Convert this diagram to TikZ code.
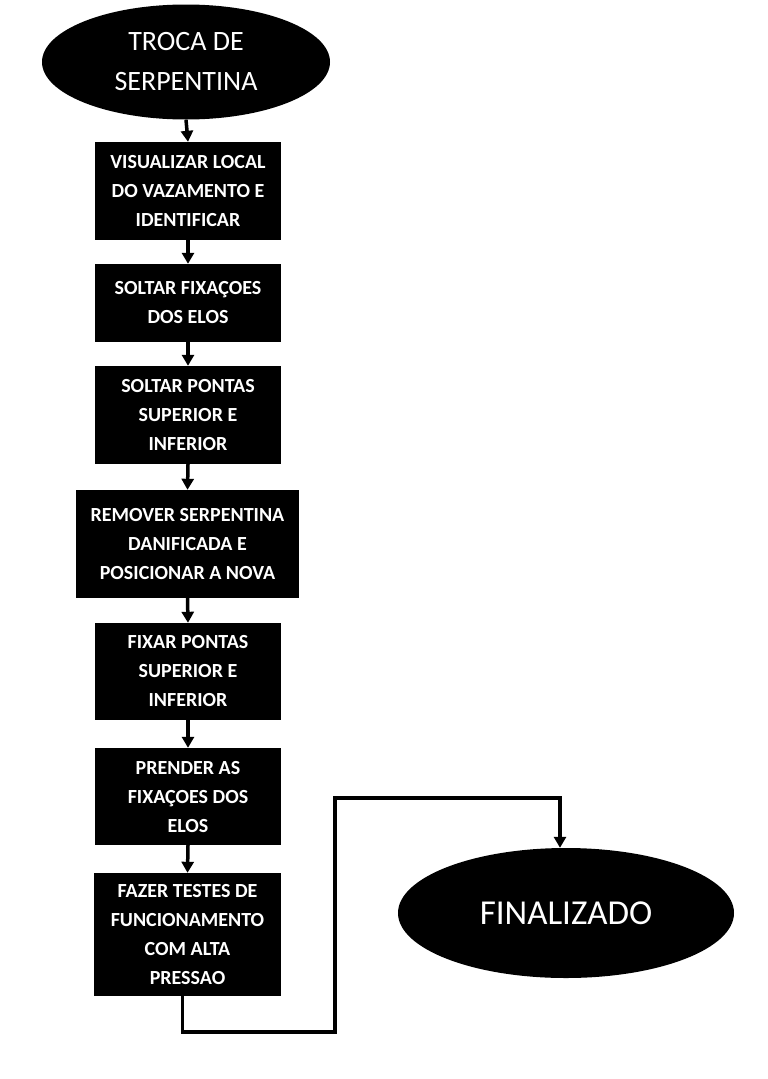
\documentclass[tikz,border=0pt]{standalone}
\usepackage{fontspec}
\setmainfont{Carlito}
\usetikzlibrary{shapes.geometric,arrows.meta}

\begin{document}
\begin{tikzpicture} [x = 1pt, y = -1pt]
\useasboundingbox (0, 0) rectangle (768, 1079);
\tikzset{
  oval/.style = {ellipse, fill = black, text = white, align = center, inner sep = 0pt},
  passo/.style = {rectangle, fill = black, text = white, align = center, inner sep = 0pt,
    minimum width = 186, font = \fontsize{20}{29}\selectfont\bfseries},
  seta/.style = {line width = 3.5, -{Triangle[length = 11, width = 12]}}
}
\node[oval, minimum width = 288, minimum height = 115, font = \fontsize{28}{40}\selectfont] (troca) at (186, 62){TROCA DE\\SERPENTINA};
\node[passo, minimum height = 98] (visualizar) at (188, 191){VISUALIZAR LOCAL\\DO VAZAMENTO E\\IDENTIFICAR};
\node[passo, minimum height = 78] (soltarfix) at (188, 303){SOLTAR FIXAÇOES\\DOS ELOS};
\node[passo, minimum height = 98] (soltarpontas) at (188, 415){SOLTAR PONTAS\\SUPERIOR E\\INFERIOR};
\node[passo, minimum width = 223, minimum height = 108] (remover) at (187.5, 544){REMOVER SERPENTINA\\DANIFICADA E\\POSICIONAR A NOVA};
\node[passo, minimum height = 97] (fixar) at (188, 671.5){FIXAR PONTAS\\SUPERIOR E\\INFERIOR};
\node[passo, minimum height = 97] (prender) at (188, 796.5){PRENDER AS\\FIXAÇOES DOS\\ELOS};
\node[passo, minimum width = 187, minimum height = 123] (testes) at (187.5, 934.5){FAZER TESTES DE\\FUNCIONAMENTO\\COM ALTA\\PRESSAO};
\node[oval, minimum width = 336, minimum height = 130, font = \fontsize{35}{40}\selectfont] (fim) at (566, 913){FINALIZADO};
\coordinate (baixo) at (335, 1032);
\coordinate (cima) at (335, 798);
\draw[seta] (troca.south) -- (visualizar.north);
\draw[seta] (visualizar.south) -- (soltarfix.north);
\draw[seta] (soltarfix.south) -- (soltarpontas.north);
\draw[seta] (soltarpontas.south) -- (remover.north);
\draw[seta] (remover.south) -- (fixar.north);
\draw[seta] (fixar.south) -- (prender.north);
\draw[seta] (prender.south) -- (testes.north);
\draw[seta] ([xshift = -5]testes.south) |- (baixo) -- (cima) -| ([xshift = -6]fim.north);
\end{tikzpicture}
\end{document}
